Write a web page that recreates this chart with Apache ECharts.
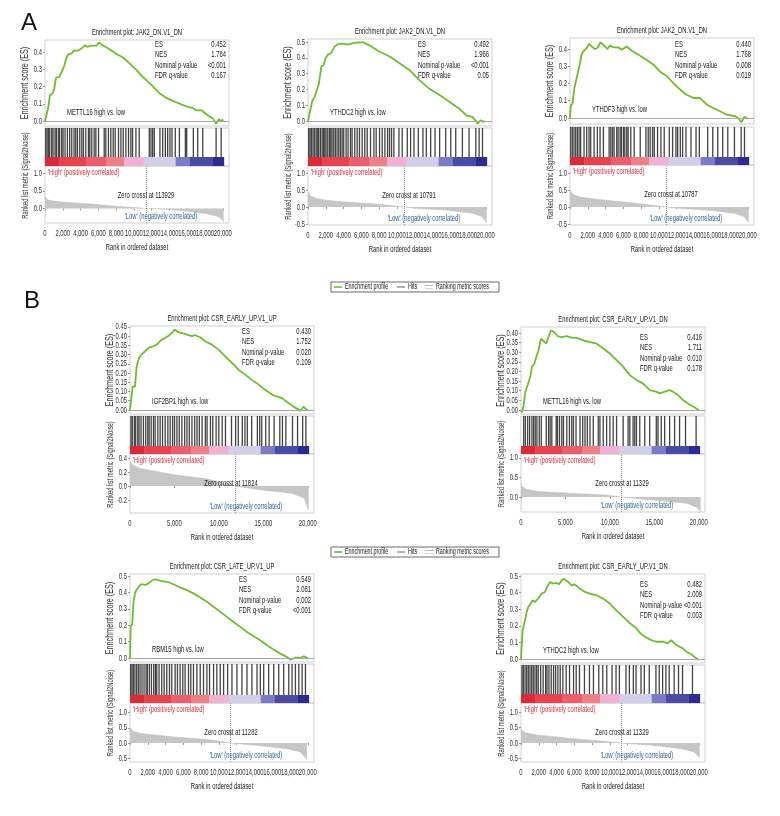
<!DOCTYPE html>
<html>
<head>
<meta charset="utf-8">
<script src="https://cdn.jsdelivr.net/npm/echarts@6/dist/echarts.min.js"></script>
<style>
  html, body { margin: 0; padding: 0; background: #fff; }
  #chart { width: 780px; height: 816px; }
</style>
</head>
<body>
<div id="chart"></div>
<script>
// the source figure uses a condensed face, so texts are drawn narrowed
const FONT = '"Liberation Sans", Arial, sans-serif';
const SQUEEZE = 0.63;
const X_MAX = 20700;
const PANEL_W = 184;

// ---- running enrichment score, [rank, ES] ----
const a1Es = [[0,0],[370,0.08],[560,0.15],[860,0.16],[1050,0.19],[1230,0.25],[1600,0.256],[1870,0.285],[2130,0.315],[2430,0.37],[2620,0.386],[3000,0.392],[3250,0.41],[3740,0.408],[4100,0.42],[4500,0.44],[4750,0.43],[5230,0.437],[5800,0.437],[6050,0.456],[6500,0.44],[7300,0.415],[8000,0.39],[8800,0.367],[9500,0.334],[10300,0.295],[11000,0.256],[12000,0.208],[12900,0.16],[13600,0.136],[14400,0.117],[15300,0.097],[16100,0.082],[16600,0.076],[17000,0.062],[17600,0.062],[18300,0.033],[18900,0.014],[19250,-0.016],[19550,0.01],[19800,0],[20070,0.008]];
const a2Es = [[0,0],[260,0.068],[490,0.13],[750,0.153],[1000,0.196],[1230,0.238],[1500,0.345],[1760,0.355],[1980,0.398],[2240,0.42],[2600,0.43],[3000,0.472],[3360,0.487],[3900,0.49],[4500,0.483],[5200,0.494],[5800,0.498],[6200,0.498],[6900,0.479],[8000,0.44],[9200,0.408],[10300,0.366],[11400,0.323],[12500,0.26],[13600,0.206],[14800,0.164],[15900,0.121],[17000,0.079],[17800,0.036],[18500,0.026],[19100,-0.017],[19400,0.004],[19700,-0.006],[19900,0]];
const a3Es = [[0,0],[80,0.068],[300,0.087],[490,0.174],[750,0.232],[1050,0.3],[1300,0.367],[1500,0.386],[1880,0.406],[2140,0.429],[2440,0.415],[2800,0.4],[3080,0.406],[3450,0.439],[3750,0.425],[4200,0.4],[4500,0.42],[4880,0.41],[5440,0.41],[5800,0.396],[6380,0.415],[6940,0.39],[7700,0.367],[8600,0.338],[9400,0.309],[10100,0.27],[10900,0.242],[11600,0.203],[12400,0.164],[13100,0.135],[13500,0.126],[13900,0.116],[14600,0.116],[15400,0.077],[16100,0.058],[16900,0.039],[17600,0.019],[18600,0.01],[18900,0],[19300,-0.025],[19600,0.006],[20000,-0.004]];
const b1Es = [[0,0],[110,0.045],[300,0.127],[560,0.127],[750,0.236],[1000,0.28],[1300,0.3],[1700,0.318],[2070,0.336],[2600,0.345],[3000,0.354],[3570,0.381],[3950,0.39],[4500,0.408],[5080,0.436],[5340,0.423],[5830,0.417],[6400,0.408],[6950,0.4],[7330,0.405],[7900,0.394],[8460,0.372],[9200,0.354],[9960,0.327],[10700,0.29],[11500,0.254],[12200,0.218],[13000,0.19],[13700,0.163],[14500,0.136],[15200,0.109],[16000,0.082],[16500,0.073],[17100,0.064],[17700,0.042],[18400,0.018],[19200,-0.005],[19500,0.018],[19800,0.005],[20000,0]];
const b2Es = [[0,0],[100,-0.012],[300,0.026],[490,0.095],[750,0.13],[1040,0.172],[1230,0.224],[1500,0.24],[1720,0.276],[1980,0.31],[2240,0.37],[2540,0.357],[2840,0.345],[3100,0.379],[3360,0.414],[3730,0.405],[4100,0.384],[4600,0.379],[5150,0.384],[5700,0.376],[6270,0.374],[7000,0.362],[7760,0.353],[8500,0.345],[9250,0.319],[10000,0.293],[10750,0.259],[11500,0.224],[12240,0.181],[13000,0.155],[13700,0.138],[14500,0.103],[15200,0.095],[15600,0.086],[16200,0.095],[16700,0.103],[17100,0.095],[17650,0.078],[18200,0.052],[18800,0.034],[19400,0.017],[19700,0.009],[20000,0]];
const b3Es = [[0,0],[80,0.19],[260,0.21],[380,0.333],[560,0.394],[750,0.418],[1050,0.439],[1320,0.451],[1700,0.445],[2070,0.455],[2440,0.471],[2820,0.48],[3380,0.471],[3950,0.465],[4500,0.459],[5080,0.445],[5640,0.43],[6400,0.414],[7140,0.394],[7900,0.369],[8650,0.343],[9400,0.312],[10150,0.282],[10900,0.251],[11650,0.22],[12400,0.19],[13160,0.159],[13900,0.133],[14660,0.108],[15400,0.078],[16200,0.051],[16900,0.027],[17700,0.006],[18050,-0.01],[18600,0.002],[19200,0.002],[19550,0.01],[19700,0.006],[20000,0]];
const b4Es = [[0,0],[70,0.074],[190,0.174],[450,0.234],[640,0.284],[820,0.314],[1080,0.334],[1300,0.354],[1570,0.344],[1940,0.364],[2320,0.394],[2700,0.404],[2950,0.434],[3250,0.464],[3630,0.454],[4000,0.458],[4300,0.45],[4560,0.474],[4820,0.484],[5300,0.464],[5680,0.444],[6060,0.45],[6600,0.424],[7180,0.404],[7740,0.394],[8500,0.384],[9230,0.364],[9980,0.334],[10700,0.294],[11500,0.254],[12200,0.218],[13000,0.184],[13500,0.15],[14100,0.13],[14650,0.114],[15200,0.104],[16000,0.104],[16500,0.094],[16900,0.114],[17460,0.084],[18200,0.064],[18600,0.044],[19100,0.03],[19600,0.01],[20000,-0.006]];

// ---- gene set hits, ranks ----
const a1Hits = [80,230,380,530,750,900,1130,1280,1500,1650,1880,2030,2260,2520,2780,3010,3270,3460,3650,3910,4140,4320,4590,4890,5040,5260,5530,5720,6020,6660,6840,7140,7410,7670,7900,8270,8540,8800,9100,9400,9660,9850,10230,10600,11730,11920,12110,12300,12930,13240,13540,13800,14060,14290,14660,15120,15790,15940,16690,17180,17750,19250,19820];
const a2Hits = [80,230,380,560,710,900,1050,1200,1390,1580,1730,1880,2030,2220,2410,2560,2710,2900,3080,3270,3460,3650,3840,4020,4290,4510,4780,4960,5260,5530,5790,6090,6390,6660,7030,7410,7670,8050,8350,8650,8950,9170,9400,9660,10230,10600,11170,11540,11920,12410,12930,13310,13800,14290,14810,15490,16060,16620,17370,18120,18880,19250,19630];
const a3Hits = [80,260,450,640,830,1020,1200,1580,1880,2140,2330,2710,3080,3380,3760,4400,4590,4780,4960,5260,5410,5640,5790,6020,6170,6390,6540,6840,7220,7900,8540,8800,9020,9290,9480,9850,10230,10600,11170,11540,11920,12110,12410,12670,13050,13610,14180,14550,15490,16060,16620,17180,17750,18500,19250,19630];
const b1Hits = [110,260,490,640,870,1020,1240,1510,1770,2000,2150,2380,2640,2830,3130,3390,3660,3960,4260,4520,4790,5010,5280,5540,5840,6150,6410,6670,6970,7280,7540,7800,8110,8480,8670,9050,9310,9690,9990,10370,10740,11420,11880,12180,12630,12930,13200,13690,14330,14590,14820,15270,15650,16210,16850,17150,17530,18280,18850,19420,19790];
const b2Hits = [300,490,750,970,1230,1420,1600,1790,2050,2280,2840,3100,3280,3470,3960,4100,4330,4590,4780,5150,5450,5710,5900,6190,6640,6940,7200,7460,7760,8130,8690,8880,9250,9630,10000,10370,10750,11490,12050,12240,12610,12800,12990,13360,13920,14480,15220,15410,15780,16160,16720,17280,17840,18510,19700];
const b3Hits = [80,230,380,560,750,940,1130,1350,1580,1810,1960,2180,2410,2670,2860,3010,3270,3570,3840,4140,4440,4700,5080,5340,5640,5940,6200,6580,6840,7140,7520,7900,8270,8650,8950,9400,9770,10150,10530,10980,11470,12030,12590,13160,13720,14290,14660,15040,15600,16170,16730,17290,17860,18230,18610,18990,19360,19740];
const b4Hits = [110,260,450,640,820,1010,1200,1380,1570,1760,1940,2210,2490,2770,2920,3140,3400,3660,3890,4150,4410,4710,5080,5460,5910,6210,6580,7140,7700,8150,8750,9200,9650,10240,10690,11070,11810,12190,12640,12940,13500,13870,14430,15180,15550,15930,16300,16670,17230,17720,18170,19290];

// ---- ranked list metric, [rank, signal2noise] ----
const a1Metric = [[0,0.33],[300,0.24],[930,0.21],[2400,0.17],[5000,0.13],[8000,0.06],[9900,0.03],[11400,0],[13600,-0.02],[15900,-0.07],[18100,-0.14],[19400,-0.22],[19900,-0.3],[20100,-0.37]];
const a2Metric = [[0,0.45],[300,0.32],[1000,0.25],[2000,0.2],[4000,0.15],[7600,0.09],[10800,0],[13000,-0.05],[15600,-0.09],[18500,-0.18],[19600,-0.28],[20100,-0.46]];
const a3Metric = [[0,0.5],[300,0.38],[1000,0.3],[2000,0.26],[4000,0.2],[7000,0.12],[10800,0],[13000,-0.05],[16000,-0.1],[18500,-0.18],[19600,-0.28],[20100,-0.45]];
const b1Metric = [[0,0.35],[300,0.3],[1100,0.25],[4900,0.16],[8700,0.1],[11800,0],[15000,-0.06],[18100,-0.1],[19600,-0.17],[20100,-0.34]];
const b2Metric = [[0,0.29],[600,0.2],[1900,0.14],[5800,0.09],[9500,0.05],[11300,0],[14900,-0.08],[18700,-0.16],[19900,-0.28],[20200,-0.38]];
const b3Metric = [[0,0.5],[400,0.38],[1200,0.31],[4900,0.2],[8700,0.11],[11300,0],[14700,-0.09],[17700,-0.19],[19200,-0.3],[19900,-0.55]];
const b4Metric = [[0,0.44],[500,0.33],[1800,0.26],[5500,0.15],[9200,0.06],[11300,0],[14800,-0.07],[18100,-0.18],[19500,-0.29],[20100,-0.47]];

// ---- colour bar (rank breaks shared by all panels) ----
const barBreaks = [0, 1600, 4600, 6900, 8900, 11100, 14700, 16300, 18900, 20100];
const barColors = ['#da2a38', '#e6434f', '#e95f6d', '#ee8088', '#f0b2d4', '#d2cfeb', '#7c7cc4', '#4b4ba6', '#2b2b92'];

// ---- statistics ----
const statNames = ['ES', 'NES', 'Nominal p-value', 'FDR q-value'];
const a1Stats = ['0.452', '1.784', '<0.001', '0.167'];
const a2Stats = ['0.492', '1.966', '<0.001', '0.05'];
const a3Stats = ['0.440', '1.768', '0.008', '0.019'];
const b1Stats = ['0.430', '1.752', '0.020', '0.109'];
const b2Stats = ['0.416', '1.711', '0.010', '0.178'];
const b3Stats = ['0.549', '2.081', '0.002', '<0.001'];
const b4Stats = ['0.482', '2.009', '<0.001', '0.003'];

const titles = ['JAK2_DN.V1_DN', 'JAK2_DN.V1_DN', 'JAK2_DN.V1_DN', 'CSR_EARLY_UP.V1_UP', 'CSR_EARLY_UP.V1_DN', 'CSR_LATE_UP.V1_UP', 'CSR_EARLY_UP.V1_DN'];
const genes = ['METTL16', 'YTHDC2', 'YTHDF3', 'IGF2BP1', 'METTL16', 'RBM15', 'YTHDC2'];
const zeroCross = [11393, 10791, 10787, 11824, 11329, 11282, 11329];
const zeroCrossText = ['113929', '10791', '10787', '11824', '11329', '11282', '11329'];

const panels = [
  { es: a1Es, hits: a1Hits, metric: a1Metric, stats: a1Stats },
  { es: a2Es, hits: a2Hits, metric: a2Metric, stats: a2Stats },
  { es: a3Es, hits: a3Hits, metric: a3Metric, stats: a3Stats },
  { es: b1Es, hits: b1Hits, metric: b1Metric, stats: b1Stats },
  { es: b2Es, hits: b2Hits, metric: b2Metric, stats: b2Stats },
  { es: b3Es, hits: b3Hits, metric: b3Metric, stats: b3Stats },
  { es: b4Es, hits: b4Hits, metric: b4Metric, stats: b4Stats },
];

// pixel layout of each panel
const layouts = [
  { left: 45, esTop: 40, esBot: 126, hitsTop: 128, barTop: 157, metTop: 166, metBot: 223, es: [-0.029, 0.47], esTicks: [0, 0.1, 0.2, 0.3, 0.4], esDec: 1, met: [-0.41, 1.2], metTicks: [0, 0.5, 1], metDec: 1, xStep: 2000, statsX: 110, statsY: 44 },
  { left: 308, esTop: 39, esBot: 126, hitsTop: 128, barTop: 157, metTop: 166, metBot: 225, es: [-0.032, 0.519], esTicks: [0, 0.1, 0.2, 0.3, 0.4, 0.5], esDec: 1, met: [-0.53, 1.21], metTicks: [-0.5, 0, 0.5, 1], metDec: 1, xStep: 2000, statsX: 110, statsY: 44 },
  { left: 570, esTop: 38, esBot: 124, hitsTop: 127, barTop: 157, metTop: 165, metBot: 225, es: [-0.035, 0.464], esTicks: [0, 0.1, 0.2, 0.3, 0.4], esDec: 1, met: [-0.53, 1.24], metTicks: [-0.5, 0, 0.5, 1], metDec: 1, xStep: 2000, statsX: 105, statsY: 44 },
  { left: 130, esTop: 326, esBot: 414, hitsTop: 416, barTop: 446, metTop: 454, metBot: 513, es: [-0.022, 0.455], esTicks: [0, 0.05, 0.1, 0.15, 0.2, 0.25, 0.3, 0.35, 0.4, 0.45], esDec: 2, met: [-0.386, 0.457], metTicks: [-0.2, 0, 0.2, 0.4], metDec: 1, xStep: 5000, statsX: 112, statsY: 331 },
  { left: 521, esTop: 327, esBot: 414, hitsTop: 416, barTop: 446, metTop: 454, metBot: 512, es: [-0.021, 0.431], esTicks: [0, 0.05, 0.1, 0.15, 0.2, 0.25, 0.3, 0.35, 0.4], esDec: 2, met: [-0.385, 1.1], metTicks: [0, 0.5, 1], metDec: 1, xStep: 5000, statsX: 119, statsY: 337 },
  { left: 130, esTop: 574, esBot: 662, hitsTop: 664, barTop: 695, metTop: 703, metBot: 762, es: [-0.024, 0.512], esTicks: [0, 0.1, 0.2, 0.3, 0.4, 0.5], esDec: 1, met: [-0.63, 1.32], metTicks: [-0.5, 0, 0.5, 1], metDec: 1, xStep: 2000, statsX: 109, statsY: 579 },
  { left: 521, esTop: 574, esBot: 663, hitsTop: 665, barTop: 694, metTop: 703, metBot: 762, es: [-0.024, 0.512], esTicks: [0, 0.1, 0.2, 0.3, 0.4, 0.5], esDec: 1, met: [-0.61, 1.29], metTicks: [-0.5, 0, 0.5, 1], metDec: 1, xStep: 2000, statsX: 119, statsY: 584 },
];

const chart = echarts.init(document.getElementById('chart'));
const grids = [], xAxes = [], yAxes = [], series = [];

const hiddenX = (gi) => ({ gridIndex: gi, type: 'value', min: 0, max: X_MAX, show: false });
const xTicksOf = (L) => {
  const out = [];
  for (let v = 0; v <= 20000; v += L.xStep) out.push(v);
  return out;
};
const tickOnly = (vals) => ({
  axisLine: { show: false },
  axisTick: { show: true, length: 2, customValues: vals, lineStyle: { color: '#999' } },
  axisLabel: { show: false },
  splitLine: { show: false },
});

panels.forEach((p, k) => {
  const L = layouts[k];
  const g0 = k * 3;
  const barFrac = (L.metTop - L.barTop) / (L.metTop - L.hitsTop);
  const gridBase = { left: L.left, width: PANEL_W, show: true, borderColor: '#cfcfcf', borderWidth: 1 };

  grids.push({ ...gridBase, top: L.esTop, height: L.esBot - L.esTop });
  grids.push({ ...gridBase, top: L.hitsTop, height: L.metTop - L.hitsTop });
  grids.push({ ...gridBase, top: L.metTop, height: L.metBot - L.metTop });

  xAxes.push(hiddenX(g0), hiddenX(g0 + 1), { gridIndex: g0 + 2, type: 'value', min: 0, max: X_MAX, ...tickOnly(xTicksOf(L)) });

  yAxes.push(
    { gridIndex: g0, type: 'value', min: L.es[0], max: L.es[1], ...tickOnly(L.esTicks) },
    { gridIndex: g0 + 1, type: 'value', min: 0, max: 1, show: false },
    { gridIndex: g0 + 2, type: 'value', min: L.met[0], max: L.met[1], ...tickOnly(L.metTicks) }
  );

  series.push({
    name: 'Enrichment profile', type: 'line', xAxisIndex: g0, yAxisIndex: g0,
    data: p.es, showSymbol: false, color: '#6cbd2f', lineStyle: { width: 1.8 },
    markLine: { silent: true, symbol: 'none', label: { show: false }, lineStyle: { color: '#a8a8a8', width: 1, type: 'solid' }, data: [{ yAxis: 0 }] },
    z: 3,
  });

  series.push({
    name: 'Hits', type: 'custom', xAxisIndex: g0 + 1, yAxisIndex: g0 + 1,
    data: p.hits.map((r) => [r, 1]),
    encode: { x: 0, y: 1 },
    renderItem: (params, api) => {
      const a = api.coord([api.value(0), 1]);
      const b = api.coord([api.value(0), barFrac]);
      return { type: 'line', shape: { x1: a[0], y1: a[1], x2: b[0], y2: b[1] }, style: { stroke: '#1a1a1a', lineWidth: 1.3, opacity: 0.82 } };
    },
  });

  series.push({
    type: 'custom', xAxisIndex: g0 + 1, yAxisIndex: g0 + 1,
    data: barColors.map((c, i) => [barBreaks[i], barBreaks[i + 1], i]),
    encode: { x: [0, 1] },
    silent: true,
    renderItem: (params, api) => {
      const a = api.coord([api.value(0), barFrac]);
      const b = api.coord([api.value(1), 0]);
      return { type: 'rect', shape: { x: a[0], y: a[1], width: b[0] - a[0] + 0.5, height: b[1] - a[1] }, style: { fill: barColors[api.value(2)] } };
    },
  });

  series.push({
    name: 'Ranking metric scores', type: 'line', xAxisIndex: g0 + 2, yAxisIndex: g0 + 2,
    data: p.metric, showSymbol: false, color: '#bdbdbd',
    lineStyle: { width: 0.6, color: '#bdbdbd' }, areaStyle: { color: '#c6c6c6', opacity: 1 },
    markLine: { silent: true, symbol: 'none', label: { show: false }, lineStyle: { color: '#9a9a9a', width: 1, type: 'dotted' }, data: [{ xAxis: zeroCross[k] }] },
  });
});

chart.setOption({
  animation: false,
  backgroundColor: '#fff',
  grid: grids, xAxis: xAxes, yAxis: yAxes, series: series,
});

// ---- texts (narrowed to match the condensed face of the source) ----
const t = (x, y, text, extra, sq) => ({
  type: 'text', x, y, z: 100, silent: true, scaleX: sq || SQUEEZE,
  style: { text, fontFamily: FONT, fontSize: 9.3, fill: '#1a1a1a', verticalAlign: 'middle', align: 'left', ...extra },
});
const graphics = [
  { type: 'text', left: 21, top: 11, z: 100, style: { text: 'A', fontSize: 24, fontFamily: FONT, fill: '#111' } },
  { type: 'text', left: 24, top: 289, z: 100, style: { text: 'B', fontSize: 24, fontFamily: FONT, fill: '#111' } },
];

panels.forEach((p, k) => {
  const L = layouts[k];
  const g0 = k * 3;
  const cx = L.left + PANEL_W / 2;
  const px = (gi, v) => chart.convertToPixel({ gridIndex: gi }, v);

  graphics.push(t(cx, L.esTop - 8, 'Enrichment plot: ' + titles[k], { align: 'center' }));
  statNames.forEach((s, i) => {
    const y = L.statsY + i * 10.6;
    graphics.push(t(L.left + L.statsX, y, s));
    graphics.push(t(L.left + 181, y, p.stats[i], { align: 'right' }));
  });
  graphics.push(t(L.left + 22, px(g0, [0, 0])[1] - 9, genes[k] + ' high vs. low'));
  graphics.push(t(L.left + 3, L.metTop + 6, "'High' (positively correlated)", { fill: '#e0303c' }));
  graphics.push(t(L.left + 101, L.metTop + 29, 'Zero crosst at ' + zeroCrossText[k], { align: 'center' }));
  graphics.push(t(L.left + 116, L.metBot - 7, "'Low' (negatively correlated)", { align: 'center', fill: '#2f5f9c' }));
  graphics.push(t(cx, L.metBot + 24, 'Rank in ordered dataset', { align: 'center' }));

  // tick labels, placed through the axes' own scales
  L.esTicks.forEach((v) => {
    const c = px(g0, [0, v]);
    graphics.push(t(c[0] - 3, c[1], v.toFixed(L.esDec), { align: 'right', fill: '#333' }));
  });
  L.metTicks.forEach((v) => {
    const c = px(g0 + 2, [0, v]);
    graphics.push(t(c[0] - 3, c[1], v.toFixed(L.metDec), { align: 'right', fill: '#333' }));
  });
  xTicksOf(L).forEach((v) => {
    const c = px(g0 + 2, [v, L.met[0]]);
    graphics.push(t(c[0], c[1] + 10, v.toLocaleString('en-US'), { align: 'center', fill: '#333' }));
  });

  // rotated axis titles
  const esMid = (L.esTop + L.esBot) / 2;
  graphics.push({ ...t(L.left - 20, esMid, 'Enrichment score (ES)', { align: 'center', fill: '#333', fontSize: 10 }, 0.72), rotation: Math.PI / 2 });
  graphics.push({ ...t(L.left - 20, (L.hitsTop + L.metBot) / 2, 'Ranked list metric (Signal2Noise)', { align: 'center', fill: '#333' }), rotation: Math.PI / 2 });
});

// ---- legend boxes ----
[282, 547].forEach((top) => {
  const my = top + 5;
  graphics.push({ type: 'rect', z: 100, silent: true, shape: { x: 331, y: top, width: 168, height: 10 }, style: { fill: '#fff', stroke: '#444', lineWidth: 0.8 } });
  graphics.push({ type: 'line', z: 101, silent: true, shape: { x1: 334, y1: my, x2: 342, y2: my }, style: { stroke: '#6cbd2f', lineWidth: 1.6 } });
  graphics.push(t(345, my, 'Enrichment profile', { fontSize: 8.5 }));
  graphics.push({ type: 'line', z: 101, silent: true, shape: { x1: 397, y1: my, x2: 405, y2: my }, style: { stroke: '#666', lineWidth: 1 } });
  graphics.push(t(408, my, 'Hits', { fontSize: 8.5 }));
  graphics.push({ type: 'line', z: 101, silent: true, shape: { x1: 425, y1: my - 1.5, x2: 433, y2: my - 1.5 }, style: { stroke: '#aaa', lineWidth: 0.8 } });
  graphics.push({ type: 'line', z: 101, silent: true, shape: { x1: 425, y1: my + 1.5, x2: 433, y2: my + 1.5 }, style: { stroke: '#ccc', lineWidth: 0.8 } });
  graphics.push(t(436, my, 'Ranking metric scores', { fontSize: 8.5 }));
});

chart.setOption({ graphic: graphics });
</script>
</body>
</html>
